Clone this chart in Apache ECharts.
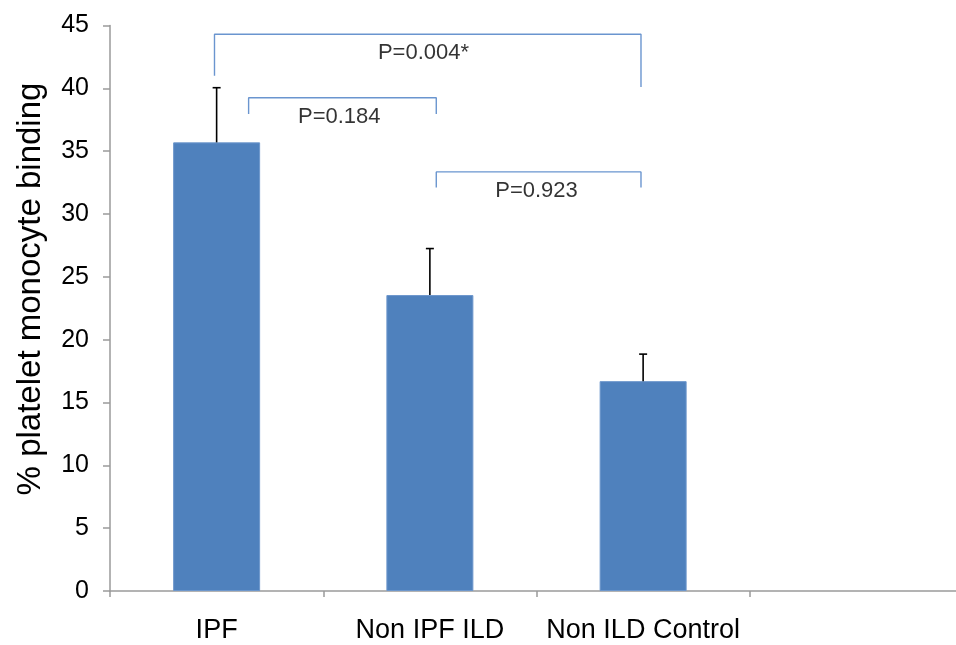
<!DOCTYPE html>
<html>
<head>
<meta charset="utf-8">
<script src="https://cdn.jsdelivr.net/npm/echarts@6/dist/echarts.min.js"></script>
<style>
  html, body { margin: 0; padding: 0; background: #fff; }
  #chart { width: 956px; height: 645px; }
</style>
</head>
<body>
<div id="chart"></div>
<script>
// Groups on the x axis (the last slot is left empty)
const categories = ['IPF', 'Non IPF ILD', 'Non ILD Control', ''];
// Mean % platelet-monocyte binding per group
const bindingMean = [35.7, 23.55, 16.7, null];
// Upper error bar length (SEM) per group
const bindingError = [4.35, 3.7, 2.15];

// Significance brackets, in slot units (slot i spans i..i+1) and y-axis units
const pLabels      = ['P=0.004*', 'P=0.184', 'P=0.923'];
const bracketLeft  = [0.49, 0.65, 1.53];
const bracketRight = [2.49, 1.53, 2.49];
const bracketTop   = [44.3, 39.25, 33.35];
const footLeft     = [41.0, 37.95, 32.1];
const footRight    = [40.1, 37.95, 32.1];
const pLabelX      = [1.47, 1.075, 2.0];
const pLabelY      = [42.85, 37.7, 31.85];

const FONT = '"Liberation Sans", Arial, sans-serif';
const AXIS_GREY = '#9a9a9a';
const BAR_BLUE = '#4f81bd';
const BRACKET_BLUE = '#6a95cf';

const chart = echarts.init(document.getElementById('chart'), null, { renderer: 'canvas' });

const bracketSeries = pLabels.map((_, i) => ({
  type: 'line',
  xAxisIndex: 1,
  yAxisIndex: 0,
  symbol: 'none',
  silent: true,
  z: 4,
  lineStyle: { color: BRACKET_BLUE, width: 1.4 },
  data: [
    [bracketLeft[i], footLeft[i]],
    [bracketLeft[i], bracketTop[i]],
    [bracketRight[i], bracketTop[i]],
    [bracketRight[i], footRight[i]]
  ]
}));

const option = {
  animation: false,
  backgroundColor: '#ffffff',
  // the plot runs a little past the right edge of the canvas
  grid: { left: 110, width: 853, top: 25.5, bottom: 54, containLabel: false, outerBoundsMode: 'none' },
  xAxis: [
    {
      type: 'category',
      data: categories,
      axisLine: { lineStyle: { color: AXIS_GREY, width: 1.5 } },
      axisTick: { show: true, interval: 0, length: 6, lineStyle: { color: AXIS_GREY, width: 1.5 } },
      axisLabel: { interval: 0, color: '#000', fontFamily: FONT, fontSize: 27, margin: 26 },
      splitLine: { show: false }
    },
    { type: 'value', min: 0, max: 4, show: false }
  ],
  yAxis: {
    type: 'value',
    min: 0,
    max: 45,
    interval: 5,
    axisLine: { show: true, lineStyle: { color: AXIS_GREY, width: 1.5 } },
    axisTick: { show: true, length: 7, lineStyle: { color: AXIS_GREY, width: 1.5 } },
    axisLabel: { color: '#000', fontFamily: FONT, fontSize: 25, margin: 21 },
    splitLine: { show: false }
  },
  graphic: [{
    type: 'text',
    x: 31,
    y: 289,
    rotation: Math.PI / 2,
    style: {
      text: '% platelet monocyte binding',
      fill: '#000',
      font: '33px ' + FONT,
      align: 'center',
      verticalAlign: 'middle'
    }
  }],
  series: [
    {
      type: 'bar',
      data: bindingMean,
      barWidth: 87,
      itemStyle: { color: BAR_BLUE, borderColor: '#6d97cc', borderWidth: 1 },
      z: 2
    },
    {
      type: 'custom',
      xAxisIndex: 0,
      yAxisIndex: 0,
      z: 3,
      silent: true,
      data: bindingMean.slice(0, 3).map((v, i) => [i, v, bindingError[i]]),
      renderItem: function (params, api) {
        const base = api.coord([api.value(0), api.value(1)]);
        const top = api.coord([api.value(0), api.value(1) + api.value(2)]);
        const style = { stroke: '#000', lineWidth: 1.6 };
        return {
          type: 'group',
          children: [
            { type: 'line', shape: { x1: base[0], y1: base[1], x2: top[0], y2: top[1] }, style: style },
            { type: 'line', shape: { x1: top[0] - 4, y1: top[1], x2: top[0] + 4, y2: top[1] }, style: style }
          ]
        };
      }
    },
    ...bracketSeries,
    {
      type: 'scatter',
      xAxisIndex: 1,
      yAxisIndex: 0,
      symbolSize: 0,
      silent: true,
      z: 5,
      data: pLabels.map((t, i) => ({ name: t, value: [pLabelX[i], pLabelY[i]] })),
      label: {
        show: true,
        position: 'inside',
        formatter: '{b}',
        color: '#000',
        fontFamily: FONT,
        fontSize: 22
      }
    }
  ]
};

chart.setOption(option);
</script>
</body>
</html>
